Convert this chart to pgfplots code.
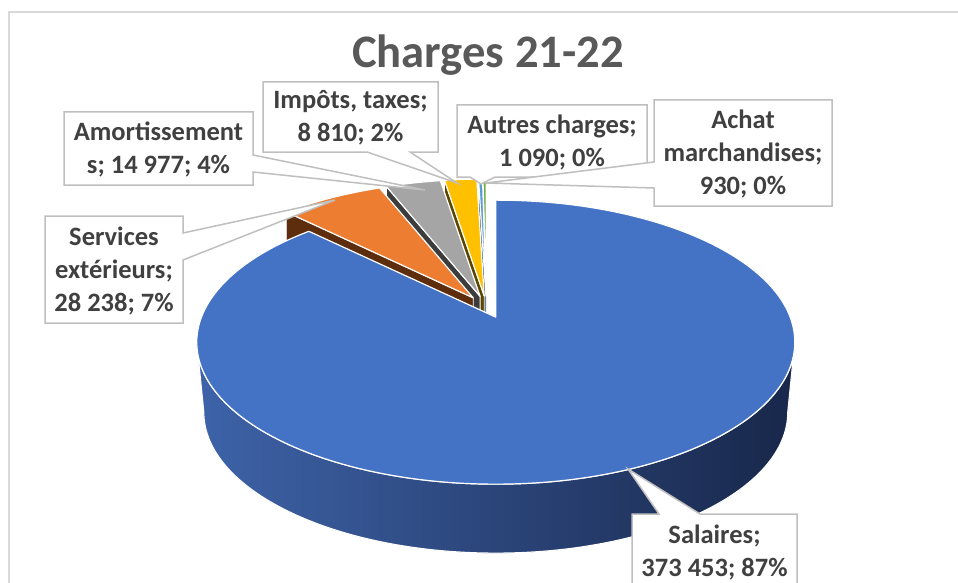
\documentclass[border=0pt]{standalone}
\usepackage{pgfplots}
\pgfplotsset{compat=1.18}
\usepackage{pgfplotstable}
\usepackage{fontspec}
\setmainfont{Carlito}
\definecolor{cBlue}{HTML}{4472C4}
\definecolor{cOrange}{HTML}{ED7D31}
\definecolor{cGrey}{HTML}{A5A5A5}
\definecolor{cYellow}{HTML}{FFC000}
\definecolor{cLBlue}{HTML}{5B9BD5}
\definecolor{cGreen}{HTML}{70AD47}
\definecolor{fOrange}{HTML}{5E2D0E}
\definecolor{fGrey}{HTML}{3C3C3C}
\definecolor{fYellow}{HTML}{5C4500}
\definecolor{fLBlue}{HTML}{1F3E5C}
\definecolor{fGreen}{HTML}{2A4318}
\definecolor{wallL}{HTML}{3E63A9}
\definecolor{wallR}{HTML}{18274A}
\definecolor{boxline}{HTML}{BFBFBF}
\definecolor{labeltext}{HTML}{404040}
\definecolor{titletext}{HTML}{595959}
\definecolor{frameline}{HTML}{D9D9D9}

\pgfplotstableread{
name value
Salaires 373453
Services 28238
Amortissements 14977
Impots 8810
Autres 1090
Achat 930
}\chargestable

% geometry (image pixels, y downwards)
\def\cx{486.5}\def\cy{332}\def\rx{299}\def\ry{142}
\def\ex{24}\def\ey{11}\def\aoff{25}\def\sh{0.1789}\def\ch{1.0159}
\def\fdepth{60}\def\wdepth{70}\def\rxb{292}\def\ryb{141}
\edef\rxpt{\fpeval{\rx/2}pt}\edef\rypt{\fpeval{\ry/2}pt}
\edef\rxbpt{\fpeval{\rxb/2}pt}\edef\rybpt{\fpeval{\ryb/2}pt}

\newcommand\getv[2]{\pgfplotstablegetelem{#1}{value}\of\chargestable\xdef#2{\pgfplotsretval}}

\newcommand\computeslice[3]{%
  \edef\tmpb{\fpeval{(#2+#3)/2}}%
  \edef\tmpcx{\fpeval{round(\cx+\ex*sind(\tmpb),3)}}%
  \edef\tmpcy{\fpeval{round(\cy-\ey*cosd(\tmpb),3)}}%
  \edef\tmpas{\fpeval{round(atand(cosd(#2)*\ch+\sh, sind(#2)),3)}}%
  \edef\tmpae{\fpeval{atand(cosd(#3)*\ch+\sh, sind(#3))}}%
  \edef\tmpae{\fpeval{round(\tmpae>\tmpas ? \tmpae-360 : \tmpae,3)}}%
  \expandafter\xdef\csname #1cx\endcsname{\tmpcx}%
  \expandafter\xdef\csname #1cy\endcsname{\tmpcy}%
  \expandafter\xdef\csname #1as\endcsname{\tmpas}%
  \expandafter\xdef\csname #1ae\endcsname{\tmpae}%
  \expandafter\xdef\csname #1ax\endcsname{\tmpcx}%
  \expandafter\xdef\csname #1ay\endcsname{\fpeval{\tmpcy-\aoff}}%
  \expandafter\xdef\csname #1sx\endcsname{\fpeval{round(\tmpcx+\rx*cosd(\tmpas),3)}}%
  \expandafter\xdef\csname #1sy\endcsname{\fpeval{round(\tmpcy-\ry*sind(\tmpas),3)}}%
}

\newcommand\slicetop[2]{%
  \edef\next{\noexpand\fill[#2, draw=white, line width=0.6pt, line join=round]
    (axis cs:\csname #1ax\endcsname,\csname #1ay\endcsname)
    -- (axis cs:\csname #1sx\endcsname,\csname #1sy\endcsname)
    arc[start angle=\csname #1as\endcsname, end angle=\csname #1ae\endcsname, x radius=\rxpt, y radius=\rypt]
    -- cycle;}\next}

\newcommand\sliceface[2]{%
  \edef\next{\noexpand\fill[#2, draw=white, line width=0.4pt, line join=round]
    (axis cs:\csname #1ax\endcsname,\csname #1ay\endcsname)
    -- (axis cs:\csname #1sx\endcsname,\csname #1sy\endcsname)
    -- (axis cs:\csname #1sx\endcsname,\fpeval{\csname #1sy\endcsname+\fdepth})
    -- (axis cs:\csname #1ax\endcsname,\fpeval{\csname #1ay\endcsname+\fdepth})
    -- cycle;}\next}

\newcommand\labelfont{\fontsize{13.25}{16.5}\selectfont\bfseries}

\begin{document}
\getv{0}{\vA}\getv{1}{\vB}\getv{2}{\vC}\getv{3}{\vD}\getv{4}{\vE}\getv{5}{\vF}%
\edef\tot{\fpeval{\vA+\vB+\vC+\vD+\vE+\vF}}%
\edef\tA{0}%
\edef\tB{\fpeval{360*\vA/\tot}}%
\edef\tC{\fpeval{360*(\vA+\vB)/\tot}}%
\edef\tD{\fpeval{360*(\vA+\vB+\vC)/\tot}}%
\edef\tE{\fpeval{360*(\vA+\vB+\vC+\vD)/\tot}}%
\edef\tF{\fpeval{360*(\vA+\vB+\vC+\vD+\vE)/\tot}}%
\edef\tG{360}%
\computeslice{sA}{\tA}{\tB}%
\computeslice{sB}{\tB}{\tC}%
\computeslice{sC}{\tC}{\tD}%
\computeslice{sD}{\tD}{\tE}%
\computeslice{sE}{\tE}{\tF}%
\computeslice{sF}{\tF}{\tG}%
\begin{tikzpicture}
\begin{axis}[x=0.5pt, y=0.5pt, xmin=0, xmax=958, ymin=0, ymax=583,
  y dir=reverse, hide axis, clip=false]
% chart frame
\draw[frameline, line width=0.7pt] (axis cs:970,12) -- (axis cs:9,12) -- (axis cs:9,600);
% small slices, far to near
\sliceface{sF}{fGreen}\slicetop{sF}{cGreen}
\sliceface{sE}{fLBlue}\slicetop{sE}{cLBlue}
\sliceface{sD}{fYellow}\slicetop{sD}{cYellow}
\sliceface{sC}{fGrey}\slicetop{sC}{cGrey}
\sliceface{sB}{fOrange}\slicetop{sB}{cOrange}
% Salaires wall and top
\edef\next{\noexpand\fill[left color=wallL, right color=wallR, draw=white, line width=0.6pt]
 (axis cs:\fpeval{\sAcx+\rx},\sAcy) arc[start angle=0,end angle=-180,x radius=\rxpt,y radius=\rypt]
 -- (axis cs:\fpeval{\sAcx-\rxb},\fpeval{\sAcy+\wdepth}) arc[start angle=180,end angle=360,x radius=\rxbpt,y radius=\rybpt] -- cycle;}\next
\slicetop{sA}{cBlue}
% callouts
\tikzset{callout/.style={draw=boxline, fill=white, line width=0.75pt, line join=miter}}
\draw[callout] (axis cs:632,514) -- (axis cs:659,514) -- (axis cs:628,469) -- (axis cs:700,514) -- (axis cs:797,514) -- (axis cs:797,600) -- (axis cs:632,600) -- cycle;
\draw[callout] (axis cs:45,216) -- (axis cs:183,216) -- (axis cs:183,233) -- (axis cs:335,200) -- (axis cs:183,260) -- (axis cs:183,323) -- (axis cs:45,323) -- cycle;
\draw[callout] (axis cs:64,112) -- (axis cs:253,112) -- (axis cs:253,155) -- (axis cs:425,190) -- (axis cs:253,172) -- (axis cs:253,185) -- (axis cs:64,185) -- cycle;
\draw[callout] (axis cs:263,82) -- (axis cs:438,82) -- (axis cs:438,152) -- (axis cs:410,152) -- (axis cs:457,183) -- (axis cs:367,152) -- (axis cs:263,152) -- cycle;
\draw[callout] (axis cs:457,105) -- (axis cs:647,105) -- (axis cs:647,177) -- (axis cs:495,177) -- (axis cs:481,184) -- (axis cs:470,177) -- (axis cs:457,177) -- cycle;
\draw[callout] (axis cs:654,100) -- (axis cs:832,100) -- (axis cs:832,206) -- (axis cs:654,206) -- (axis cs:654,188) -- (axis cs:486,183) -- (axis cs:654,162) -- cycle;
% label texts
\tikzset{lab/.style={align=center, font=\labelfont, text=labeltext, inner sep=0pt}}
\node[lab] at (axis cs:714.5,552) {Salaires;\\373 453; 87\%};
\node[lab] at (axis cs:114,271) {Services\\extérieurs;\\28 238; 7\%};
\node[lab] at (axis cs:158.5,149) {Amortissement\\s; 14 977; 4\%};
\node[lab] at (axis cs:350.5,118) {Impôts, taxes;\\8 810; 2\%};
\node[lab] at (axis cs:552,142) {Autres charges;\\1 090; 0\%};
\node[lab] at (axis cs:743,154) {Achat\\marchandises;\\930; 0\%};
% title
\node[anchor=base, font=\fontsize{23.3}{28}\selectfont\bfseries, text=titletext, inner sep=0pt] at (axis cs:488,68) {Charges 21-22};
\end{axis}
\pgfresetboundingbox
\path[use as bounding box] (current axis.south west) rectangle (current axis.north east);
\end{tikzpicture}
\end{document}
